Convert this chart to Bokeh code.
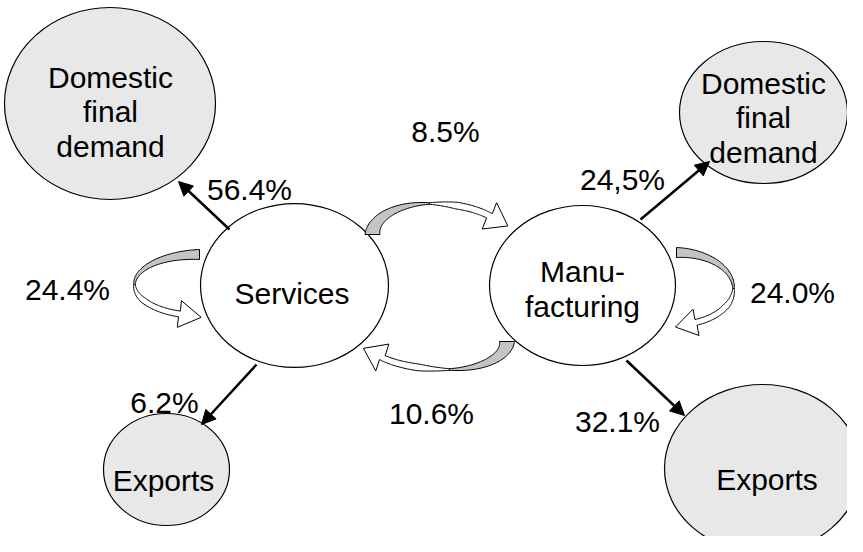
import numpy as np
from bokeh.plotting import figure
from bokeh.models import Range1d, Arrow, NormalHead, ColumnDataSource
from bokeh.core.properties import value
from bokeh.embed import file_html
from bokeh.resources import INLINE

# ---------------- data ----------------
node_names = ["Domestic\nfinal\ndemand", "Services", "Exports",
              "Manu-\nfacturing", "Domestic\nfinal\ndemand", "Exports"]
flow_labels = ["56.4%", "8.5%", "24,5%", "24.4%", "24.0%", "6.2%", "10.6%", "32.1%"]

# ---------------- layout (screen pixels, y down) ----------------
node_cx = [117.5, 302, 174, 590, 771, 770]
node_cy = [111, 293, 477, 293, 120, 476]
node_rx = [105.5, 94, 63, 93, 84, 98]
node_ry = [96, 82, 56, 80, 71, 84]
node_fill = ["#e8e8e8", "#ffffff", "#e8e8e8", "#ffffff", "#e8e8e8", "#e8e8e8"]
node_tx = [118, 299.5, 171, 590, 771, 774.5]
node_ty = [108.5, 290, 477, 286, 114.5, 476.5]

label_x = [257, 453, 630, 75, 800, 172, 439, 625]
label_y = [186.5, 128, 176.5, 286, 289.5, 399, 410.5, 418]

# straight arrows: start -> end
arr_x0 = [237, 648, 264, 634]
arr_y0 = [237, 227, 372, 368]
arr_x1 = [186, 717, 209, 692]
arr_y1 = [189, 169, 432, 423]

FONT = value("Liberation Sans")
FS = "30px"
LINE_SP = 34.5
CAP_HALF = 10.7

p = figure(width=847, height=536, x_range=Range1d(8, 855), y_range=Range1d(544, 8),
           output_backend="svg", toolbar_location=None, min_border=0,
           x_axis_type=None, y_axis_type=None)
p.grid.visible = False
p.outline_line_color = None
p.background_fill_color = "white"

# ellipses
p.ellipse(x=node_cx, y=node_cy, width=[2 * r for r in node_rx], height=[2 * r for r in node_ry],
          fill_color=node_fill, line_color="black", line_width=1.2)


def ell_pt(cx, cy, rx, ry, th, off):
    t = np.radians(th)
    return cx + (rx + off) * np.cos(t), cy - (ry + off) * np.sin(t)


def curved_arrow(cx, cy, rx1, ry1, rx2, ry2, th0, thm, the, w0, wm, w1, hl, hw):
    t = np.linspace(0, 1, 50)
    th = th0 + (thm - th0) * t
    w = w0 + (wm - w0) * t
    ox, oy = ell_pt(cx, cy, rx1, ry1, th, w / 2)
    ix, iy = ell_pt(cx, cy, rx1, ry1, th, -w / 2)
    gx = np.concatenate([ox, ix[::-1]])
    gy = np.concatenate([oy, iy[::-1]])
    th = thm + (the - thm) * t
    w = wm + (w1 - wm) * np.minimum(1, t * 2.5)
    ox, oy = ell_pt(cx, cy, rx2, ry2, th, w / 2)
    ix, iy = ell_pt(cx, cy, rx2, ry2, th, -w / 2)
    bx, by = ell_pt(cx, cy, rx2, ry2, the, 0)
    s = np.sign(the - thm)
    tr = np.radians(the)
    tx, ty = -rx2 * np.sin(tr) * s, -ry2 * np.cos(tr) * s
    n = np.hypot(tx, ty)
    tx, ty = tx / n, ty / n
    nx, ny = -ty, tx
    if nx * (bx - cx) + ny * (by - cy) < 0:
        nx, ny = -nx, -ny
    hx = [bx + nx * hw / 2, bx + tx * hl, bx - nx * hw / 2]
    hy = [by + ny * hw / 2, by + ty * hl, by - ny * hw / 2]
    wx = np.concatenate([ox, hx, ix[::-1]])
    wy = np.concatenate([oy, hy, iy[::-1]])
    return (list(gx), list(gy)), (list(wx), list(wy))


curves = [
    # cx, cy, rx1, ry1, rx2, ry2, th0, thm, the, w0, wm, w1, hl, hw
    (437, 242, 57, 31, 75, 31, 180, 90, 37, 15, 1.5, 7, 21, 30),
    (207, 292, 65, 30, 65, 31, 90, 180, 252, 10, 1.5, 6, 22, 27),
    (684, 296, 57, 36, 57, 36, 90, 0, -70, 10, 1.5, 6, 21, 27),
    (457, 349, 57.5, 28, 82, 28, 0, -90, -145, 15, 1.5, 7, 21, 30),
]
gxs, gys, wxs, wys = [], [], [], []
for c in curves:
    (gx, gy), (wx, wy) = curved_arrow(*c)
    gxs.append(gx); gys.append(gy); wxs.append(wx); wys.append(wy)

p.patches(xs=wxs, ys=wys, fill_color="white", line_color="black", line_width=1)
p.patches(xs=gxs, ys=gys, fill_color="#c4c4c4", line_color="black", line_width=1)

# straight arrows
asrc = ColumnDataSource(dict(x0=arr_x0, y0=arr_y0, x1=arr_x1, y1=arr_y1))
p.add_layout(Arrow(end=NormalHead(size=14, fill_color="black", line_color="black"),
                   x_start="x0", y_start="y0", x_end="x1", y_end="y1", source=asrc,
                   line_width=2.5, line_color="black"))

# node texts (split into lines)
tx, ty, tt = [], [], []
for name, cx, cy in zip(node_names, node_tx, node_ty):
    lines = name.split("\n")
    k = len(lines)
    for i, ln in enumerate(lines):
        tx.append(cx)
        ty.append(cy - (k - 1) * LINE_SP / 2 + i * LINE_SP + CAP_HALF)
        tt.append(ln)
p.text(x=tx, y=ty, text=tt, text_font=FONT, text_font_size=FS,
       text_align="center", text_baseline="alphabetic", text_color="black")

# flow labels
p.text(x=label_x, y=[y + CAP_HALF for y in label_y], text=flow_labels, text_font=FONT,
       text_font_size=FS, text_align="center", text_baseline="alphabetic", text_color="black")

open("out.html", "w").write(file_html(p, INLINE))
